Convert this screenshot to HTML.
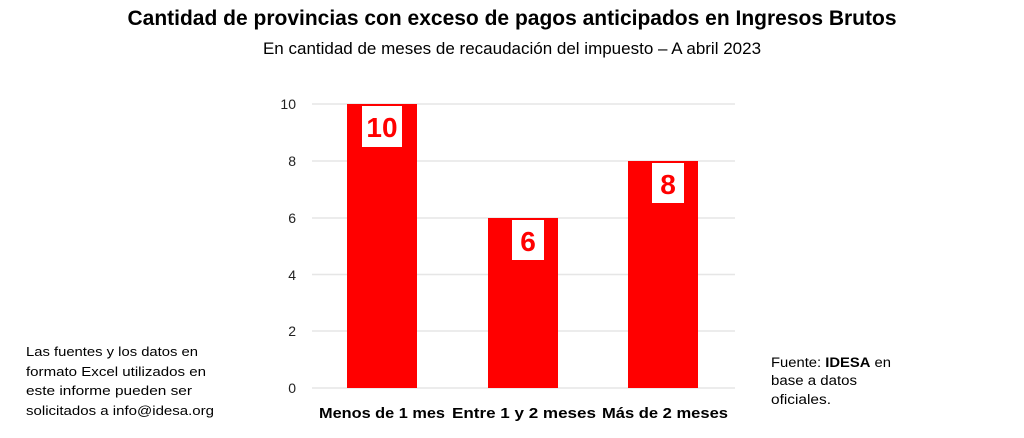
<!DOCTYPE html>
<html><head><meta charset="utf-8"><style>
body{margin:0;background:#fff;}
svg{display:block;}
</style></head><body>
<svg width="1024" height="438" xmlns="http://www.w3.org/2000/svg" font-family="Liberation Sans, sans-serif">
<rect width="1024" height="438" fill="#fff"/>
<text x="512" y="25" text-anchor="middle" font-size="21" font-weight="bold" fill="#000">Cantidad de provincias con exceso de pagos anticipados en Ingresos Brutos</text>
<text x="512" y="54" text-anchor="middle" font-size="17" fill="#000">En cantidad de meses de recaudación del impuesto – A abril 2023</text>
<g stroke="#e6e6e6" stroke-width="1.5">
<line x1="312" x2="735" y1="104" y2="104"/>
<line x1="312" x2="735" y1="161" y2="161"/>
<line x1="312" x2="735" y1="218" y2="218"/>
<line x1="312" x2="735" y1="274.5" y2="274.5"/>
<line x1="312" x2="735" y1="331" y2="331"/>
<line x1="312" x2="735" y1="388" y2="388"/>
</g>
<g font-size="14" fill="#222" text-anchor="end">
<text x="296" y="109">10</text>
<text x="296" y="166">8</text>
<text x="296" y="223">6</text>
<text x="296" y="280">4</text>
<text x="296" y="336">2</text>
<text x="296" y="393">0</text>
</g>
<rect x="347" y="104" width="70" height="284" fill="#ff0000"/>
<rect x="488" y="218" width="70" height="170" fill="#ff0000"/>
<rect x="628" y="161" width="70" height="227" fill="#ff0000"/>
<rect x="362" y="106" width="40" height="41" fill="#fff"/>
<rect x="512" y="220" width="32" height="40" fill="#fff"/>
<rect x="652" y="163" width="32" height="40" fill="#fff"/>
<g font-size="28" font-weight="bold" fill="#ff0000" text-anchor="middle">
<text x="382" y="137">10</text>
<text x="528" y="251">6</text>
<text x="668" y="194">8</text>
</g>
<g font-size="15" font-weight="bold" fill="#000" text-anchor="middle">
<text x="382" y="418" textLength="126" lengthAdjust="spacingAndGlyphs">Menos de 1 mes</text>
<text x="524" y="418" textLength="144" lengthAdjust="spacingAndGlyphs">Entre 1 y 2 meses</text>
<text x="665" y="418" textLength="126" lengthAdjust="spacingAndGlyphs">Más de 2 meses</text>
</g>
<g font-size="13" fill="#000">
<text x="26" y="356" textLength="172" lengthAdjust="spacingAndGlyphs">Las fuentes y los datos en</text>
<text x="26" y="376" textLength="180" lengthAdjust="spacingAndGlyphs">formato Excel utilizados en</text>
<text x="26" y="395" textLength="166" lengthAdjust="spacingAndGlyphs">este informe pueden ser</text>
<text x="26" y="415" textLength="188" lengthAdjust="spacingAndGlyphs">solicitados a info@idesa.org</text>
</g>
<g font-size="13.5" fill="#000">
<text x="771" y="367" textLength="120" lengthAdjust="spacingAndGlyphs">Fuente: <tspan font-weight="bold">IDESA</tspan> en</text>
<text x="771" y="385" textLength="86" lengthAdjust="spacingAndGlyphs">base a datos</text>
<text x="771" y="404" textLength="60" lengthAdjust="spacingAndGlyphs">oficiales.</text>
</g>
</svg>
</body></html>
